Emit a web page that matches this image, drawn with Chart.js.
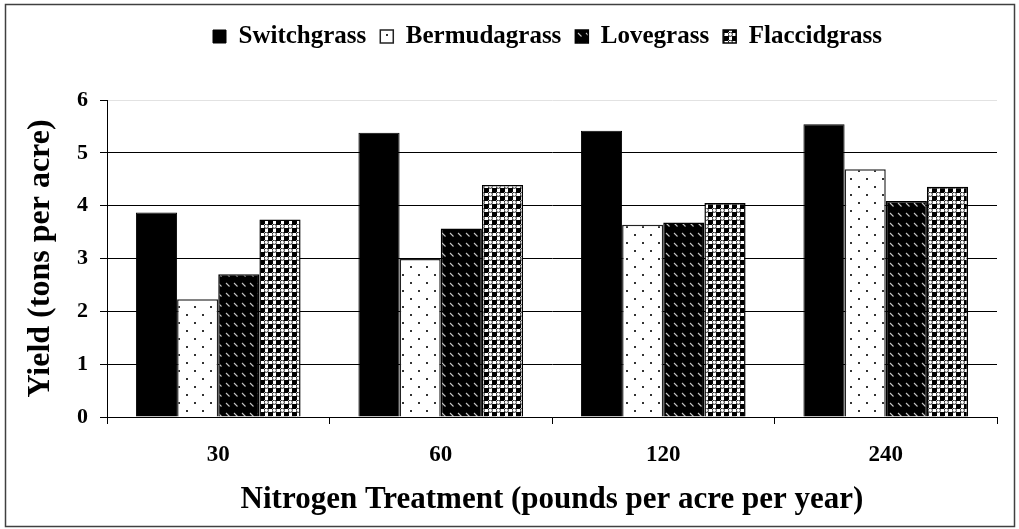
<!DOCTYPE html>
<html>
<head>
<meta charset="utf-8">
<script src="https://cdn.jsdelivr.net/npm/chart.js@4.4.1/dist/chart.umd.min.js"></script>
<style>
  html, body { margin: 0; padding: 0; background: #fff; }
  #wrap { width: 1019px; height: 529px; }
</style>
</head>
<body>
<div id="wrap"><canvas id="c" width="1019" height="529"></canvas></div>
<script>
// ---- data ----
const categories = ['30', '60', '120', '240'];
const seriesNames = ['Switchgrass', 'Bermudagrass', 'Lovegrass', 'Flaccidgrass'];
const switchgrass = [3.87, 5.38, 5.42, 5.54];
const bermudagrass = [2.23, 2.99, 3.64, 4.69];
const lovegrass = [2.70, 3.57, 3.68, 4.09];
const flaccidgrass = [3.74, 4.39, 4.05, 4.36];
const yTicks = [0, 1, 2, 3, 4, 5, 6];
const xTitle = 'Nitrogen Treatment (pounds per acre per year)';
const yTitle = 'Yield (tons per acre)';

const FONT = '"Liberation Serif", "Times New Roman", serif';

// ---- patterns ----
function makePattern(w, h, draw) {
  const c = document.createElement('canvas');
  c.width = w; c.height = h;
  const g = c.getContext('2d');
  draw(g, w, h);
  return g.createPattern(c, 'repeat');
}
const dotPattern = makePattern(16, 16, (g) => {
  g.fillStyle = '#fff'; g.fillRect(0, 0, 16, 16);
  g.fillStyle = '#333';
  g.fillRect(2, 2, 2, 2);
  g.fillRect(10, 10, 2, 2);
});
const dashPattern = makePattern(8, 10, (g) => {
  g.fillStyle = '#000'; g.fillRect(0, 0, 8, 10);
  g.strokeStyle = '#c8c8c8'; g.lineWidth = 1.1;
  g.beginPath(); g.moveTo(2, 3); g.lineTo(5.5, 6.5); g.stroke();
});
const checkPattern = makePattern(8, 8, (g) => {
  g.fillStyle = '#fff'; g.fillRect(0, 0, 8, 8);
  g.fillStyle = '#000';
  g.fillRect(4, 4, 4, 4);
  g.fillRect(0, 4, 1, 4);
  g.fillRect(4, 0, 4, 1);
  g.strokeStyle = '#222'; g.lineWidth = 1;
  g.beginPath(); g.arc(2.3, 2.3, 2.1, 0, Math.PI * 2); g.stroke();
});

const seriesData = [switchgrass, bermudagrass, lovegrass, flaccidgrass];
const fills = ['#000', dotPattern, dashPattern, checkPattern];

const datasets = seriesNames.map((name, i) => ({
  label: name,
  data: seriesData[i],
  backgroundColor: fills[i],
  borderColor: i === 1 ? '#222' : '#000',
  borderWidth: i === 0 ? 1 : 1.5,
  categoryPercentage: 0.74,
  barPercentage: 1.0
}));

const LEGEND_EXTRA = 41;
const LEGEND_START_X = 213;

const layoutPlugin = {
  id: 'layoutPlugin',
  beforeInit(chart) {
    if (!chart.legend) return;
    const orig = chart.legend.fit;
    chart.legend.fit = function () {
      orig.call(this);
      this.height += LEGEND_EXTRA;
    };
  },
  afterLayout(chart) {
    const lg = chart.legend;
    if (!lg || !lg.lineWidths) return;
    const pad = lg.options.labels.padding;
    lg.lineWidths[0] = lg.left + pad + lg.right - 2 * LEGEND_START_X;
  },
  afterDraw(chart) {
    const ctx = chart.ctx;
    ctx.save();
    ctx.strokeStyle = '#404040';
    ctx.lineWidth = 1.5;
    ctx.strokeRect(5.5, 4.5, 1009, 522);
    ctx.restore();
  }
};

new Chart(document.getElementById('c'), {
  type: 'bar',
  data: { labels: categories, datasets },
  plugins: [layoutPlugin],
  options: {
    responsive: false,
    animation: false,
    devicePixelRatio: 1,
    layout: { padding: { top: 10, left: 0, right: 22, bottom: 0 } },
    plugins: {
      tooltip: { enabled: false },
      legend: {
        position: 'top',
        align: 'center',
        labels: {
          boxWidth: 13,
          boxHeight: 13,
          padding: 14,
          color: '#000',
          font: { family: FONT, size: 25, weight: 'bold' }
        }
      }
    },
    scales: {
      x: {
        offset: true,
        afterFit(scale) { scale.height = 112; },
        grid: {
          display: true,
          drawOnChartArea: false,
          drawTicks: true,
          tickLength: 7,
          color: '#000',
          offset: true
        },
        border: { display: true, color: '#000', width: 1 },
        ticks: {
          color: '#000',
          padding: 17,
          font: { family: FONT, size: 23, weight: 'bold' }
        },
        title: {
          display: true,
          text: xTitle,
          color: '#000',
          padding: { top: 0, bottom: 10 },
          font: { family: FONT, size: 31, weight: 'bold' }
        }
      },
      y: {
        min: 0,
        max: 6,
        afterFit(scale) { scale.width = 107; },
        afterBuildTicks(scale) { scale.ticks = yTicks.map(v => ({ value: v })); },
        grid: {
          drawTicks: true,
          tickLength: 7,
          tickColor: '#000',
          lineWidth: 1,
          color: (ctx) => (ctx.tick && ctx.tick.value === 6 ? '#e2e2e2' : '#000')
        },
        border: { display: true, color: '#000', width: 1 },
        ticks: {
          color: '#000',
          padding: 12,
          font: { family: FONT, size: 22, weight: 'bold' }
        },
        title: {
          display: true,
          text: yTitle,
          color: '#000',
          padding: { top: 22, bottom: 0 },
          font: { family: FONT, size: 32, weight: 'bold' }
        }
      }
    }
  }
});
</script>
</body>
</html>
